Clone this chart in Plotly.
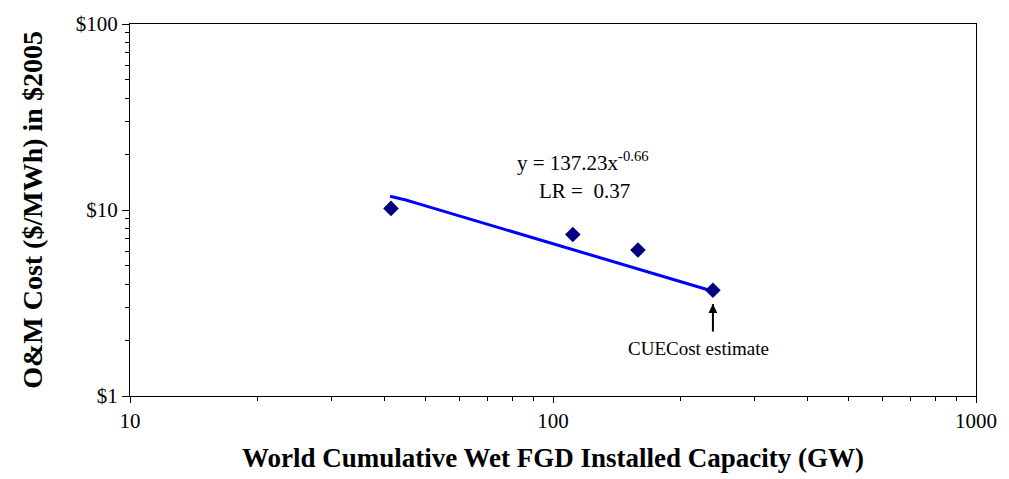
import plotly.graph_objects as go

# Data
capacity_gw = [41.4, 111.4, 158.8, 238.8]
om_cost = [10.2, 7.39, 6.09, 3.70]

trend_x = [41.2, 45.1, 48.4, 62.2, 112.4, 230.0, 238.8]
trend_y = [11.85, 11.29, 10.75, 9.08, 6.09, 3.79, 3.66]

x_ticks = [10, 100, 1000]
x_labels = ["10", "100", "1000"]
y_ticks = [1, 10, 100]
y_labels = ["$1", "$10", "$100"]

equation_text = "y = 137.23x<sup>-0.66</sup>"
lr_text = "LR =  0.37"
estimate_text = "CUECost estimate"

# arrow under the CUECost estimate point (y values in data units)
arrow_x = [capacity_gw[-1], capacity_gw[-1]]
arrow_y = [2.22, 3.12]

font_family = "Liberation Serif, Times New Roman, serif"

fig = go.Figure()
fig.add_trace(go.Scatter(x=trend_x, y=trend_y, mode="lines",
                         line=dict(color="#0000FF", width=3), hoverinfo="skip"))
fig.add_trace(go.Scatter(x=capacity_gw, y=om_cost, mode="markers",
                         marker=dict(symbol="diamond", color="#000080", size=12)))
fig.add_trace(go.Scatter(x=arrow_x, y=arrow_y, mode="lines",
                         line=dict(color="black", width=2), hoverinfo="skip"))
fig.add_trace(go.Scatter(x=arrow_x[1:], y=arrow_y[1:], mode="markers",
                         marker=dict(symbol="arrow-up", color="black", size=9,
                                     line=dict(width=0)), hoverinfo="skip"))

fig.add_annotation(x=2.071, y=1.26, xref="x", yref="y", text=equation_text,
                   showarrow=False, font=dict(family=font_family, size=21, color="black"))
fig.add_annotation(x=2.075, y=1.10, xref="x", yref="y", text=lr_text,
                   showarrow=False, font=dict(family=font_family, size=21, color="black"))
fig.add_annotation(x=2.345, y=0.253, xref="x", yref="y", text=estimate_text,
                   showarrow=False, font=dict(family=font_family, size=19, color="black"))

fig.update_layout(
    width=1009, height=479,
    margin=dict(l=130, r=24, t=16, b=83),
    plot_bgcolor="white", paper_bgcolor="white",
    showlegend=False,
    font=dict(family=font_family, color="black"),
)
fig.update_xaxes(type="log", range=[1, 3], tickvals=x_ticks, ticktext=x_labels,
                 ticks="outside", ticklen=6, tickcolor="black", showgrid=False,
                 minor=dict(ticks="outside", ticklen=4, tickcolor="black", dtick="D1", showgrid=False),
                 showline=True, linecolor="black", linewidth=1, mirror=True, zeroline=False,
                 tickfont=dict(family=font_family, size=21),
                 title=dict(text="<b>World Cumulative Wet FGD Installed Capacity (GW)</b>",
                            font=dict(family=font_family, size=27), standoff=15))
fig.update_yaxes(type="log", range=[0, 2], tickvals=y_ticks, ticktext=y_labels,
                 ticks="outside", ticklen=7, tickcolor="black", showgrid=False,
                 minor=dict(ticks="outside", ticklen=4, tickcolor="black", dtick="D1", showgrid=False),
                 showline=True, linecolor="black", linewidth=1, mirror=True, zeroline=False,
                 tickfont=dict(family=font_family, size=21),
                 title=dict(text="<b>O&M Cost ($/MWh) in $2005</b>",
                            font=dict(family=font_family, size=28), standoff=24))

fig.write_html("out.html")
